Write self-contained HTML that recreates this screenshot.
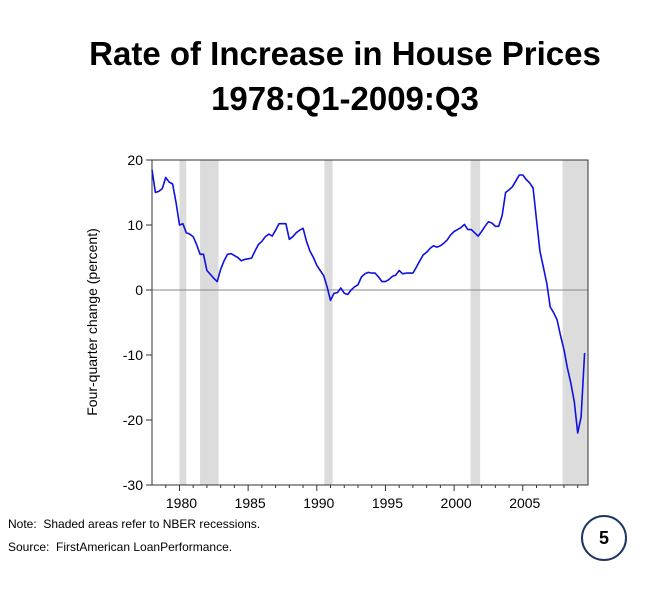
<!DOCTYPE html>
<html><head><meta charset="utf-8"><style>
body{margin:0;background:#fff;}
#wrap{position:relative;width:650px;height:600px;overflow:hidden;background:#fff;font-family:"Liberation Sans",sans-serif;}
.title{position:absolute;left:0;width:690px;text-align:center;font-weight:bold;font-size:33px;color:#000;font-family:"Liberation Sans",sans-serif;}
.note{position:absolute;left:8px;font-size:12px;color:#000;font-family:"Liberation Sans Narrow","Liberation Sans",sans-serif;}
#badge{position:absolute;left:581px;top:515px;width:42px;height:42px;border:2px solid #1f3566;border-radius:50%;text-align:center;line-height:42px;font-weight:bold;font-size:18px;}
</style></head><body>
<div id="wrap">
<div class="title" style="top:35px">Rate of Increase in House Prices</div>
<div class="title" style="top:80px">1978:Q1-2009:Q3</div>
<svg id="chart" width="650" height="600" style="position:absolute;left:0;top:0"></svg>
<div class="note" style="top:517px">Note:&nbsp; Shaded areas refer to NBER recessions.</div>
<div class="note" style="top:540px">Source:&nbsp; FirstAmerican LoanPerformance.</div>
<div id="badge">5</div>
</div>
<script>
const startYear = 1978;
const values = [
18.5,15,15.2,15.6, 17.3,16.6,16.3,13.5, 10,10.2,8.8,8.6, 8.2,7,5.5,5.5,
3,2.4,1.8,1.3, 3.2,4.5,5.5,5.6, 5.3,5,4.5,4.7, 4.8,4.9,6,7,
7.5,8.2,8.6,8.3, 9.2,10.2,10.2,10.2, 7.8,8.2,8.8,9.2, 9.5,7.5,6,5,
3.8,3,2.2,0.5, -1.6,-0.5,-0.4,0.3, -0.5,-0.7,0,0.5, 0.8,2,2.5,2.7,
2.6,2.6,2,1.3, 1.3,1.6,2.1,2.3, 3.0,2.5,2.6,2.6, 2.6,3.5,4.5,5.4,
5.8,6.4,6.8,6.6, 6.8,7.2,7.7,8.5, 9.0,9.3,9.6,10.1, 9.3,9.3,8.8,8.3,
9.0,9.8,10.5,10.3, 9.8,9.8,11.5,15, 15.4,15.9,16.8,17.7, 17.7,17.0,16.5,15.7,
10.8,6,3.5,1.0, -2.6,-3.5,-4.6,-7, -9.2,-12,-14.3,-17.2, -22,-19.5,-9.7];
const recessionStarts = [1980.0, 1981.5, 1990.55, 2001.2, 2007.9];
const recessionEnds = [1980.5, 1982.85, 1991.15, 2001.9, 2009.75];
const yTicks = [20,10,0,-10,-20,-30];
const xLabels = [1980,1985,1990,1995,2000,2005];

const L=152,R=588,T=160,B=485, yMin=-30,yMax=20, xMin=1978,xMax=2009.75;
const X=t=>L+(t-xMin)/(xMax-xMin)*(R-L);
const Y=v=>T+(yMax-v)/(yMax-yMin)*(B-T);
const svg=document.getElementById('chart');
const NS='http://www.w3.org/2000/svg';
function mk(tag,attrs){const e=document.createElementNS(NS,tag);for(const k in attrs)e.setAttribute(k,attrs[k]);svg.appendChild(e);return e;}

recessionStarts.forEach((s,i)=>{
  const r=mk('rect',{x:X(s),y:T,width:X(recessionEnds[i])-X(s),height:B-T,fill:'#dcdcdc'});
  
  
});
const z=mk('line',{x1:L,x2:R,y1:Y(0),y2:Y(0),stroke:'#888','stroke-width':1});


const fr=mk('rect',{x:L,y:T,width:R-L,height:B-T,fill:'none',stroke:'#333','stroke-width':1});



yTicks.forEach(v=>{
  mk('line',{x1:L-6,x2:L,y1:Y(v),y2:Y(v),stroke:'#333'});
  const t=mk('text',{x:L-9,y:Y(v)+5,'text-anchor':'end','font-size':14,fill:'#000','font-family':'Liberation Sans, sans-serif'});
  t.textContent=v;
  
  
});
for(let yr=1979;yr<=2009;yr++){
  const major=yr%5===0;
  mk('line',{x1:X(yr),x2:X(yr),y1:B,y2:B+(major?6:3),stroke:'#333'});
}
xLabels.forEach(yr=>{
  const t=mk('text',{x:X(yr)+2,y:B+23,'text-anchor':'middle','font-size':14,fill:'#000','font-family':'Liberation Sans, sans-serif'});
  t.textContent=yr;
  
  
});
const yl=mk('text',{x:0,y:0,transform:`translate(97,322) rotate(-90)`,'text-anchor':'middle','font-size':14,fill:'#000','font-family':'Liberation Sans, sans-serif'});
yl.textContent='Four-quarter change (percent)';



const pts=values.map((v,i)=>X(startYear+i*0.25).toFixed(1)+','+Y(v).toFixed(1)).join(' ');
const line=mk('polyline',{points:pts,fill:'none',stroke:'#1010e0','stroke-width':1.6,'stroke-linejoin':'round'});


</script>
</body></html>
